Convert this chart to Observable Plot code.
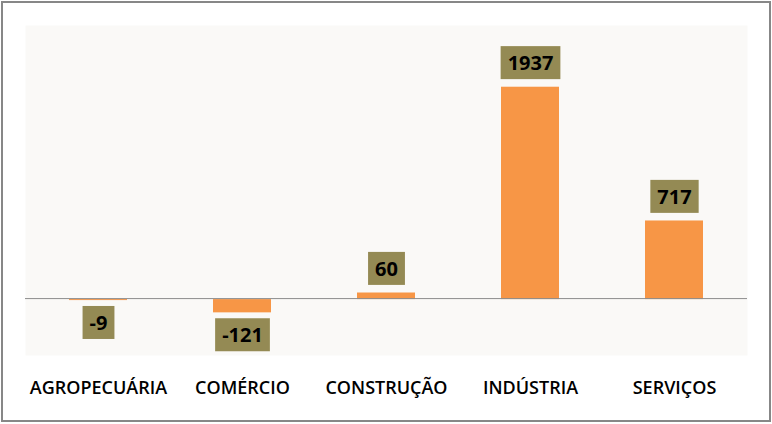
<!DOCTYPE html>
<html>
<head>
<meta charset="utf-8">
<script src="https://cdn.jsdelivr.net/npm/d3@7"></script>
<script src="https://cdn.jsdelivr.net/npm/@observablehq/plot@0.6"></script>
<style>
  html, body { margin: 0; padding: 0; background: #ffffff; }
  #frame { position: absolute; left: 1px; top: 1px; width: 770px; height: 421px; box-sizing: border-box; border: 2px solid #878787; background: #fff; }
  #chart { position: absolute; left: 0px; top: 0px; }
</style>
</head>
<body>
<div id="frame"><div id="chart"></div></div>
<script>
const categories = ["AGROPECUÁRIA", "COMÉRCIO", "CONSTRUÇÃO", "INDÚSTRIA", "SERVIÇOS"];
const values = [-9, -121, 60, 1937, 717];

const data = categories.map((c, i) => ({category: c, value: values[i]}));
const pos = data.filter(d => d.value >= 0);
const neg = data.filter(d => d.value < 0);

const plot = Plot.plot({
  width: 766,
  height: 417,
  marginLeft: 22,
  marginRight: 22,
  marginTop: 22,
  marginBottom: 65,
  style: {background: "transparent", fontFamily: "Open Sans, sans-serif"},
  x: {domain: categories, paddingInner: 0.6, paddingOuter: 0.3, label: null, axis: null},
  y: {domain: [-510, 2500], axis: null},
  marks: [
    Plot.frame({fill: "#faf9f7", stroke: null}),
    Plot.barY(data, {x: "category", y: "value", fill: "#f79646"}),
    Plot.ruleY([0], {stroke: "#8c8c8c", strokeWidth: 1, dy: -1}),
    Plot.text(pos, {x: "category", y: "value", text: d => String(d.value), dy: -23.5, fill: "#000", fontSize: 20, fontWeight: 700, className: "vlabel"}),
    Plot.text(neg, {x: "category", y: "value", text: d => String(d.value), dy: 23, fill: "#000", fontSize: 20, fontWeight: 700, className: "vlabel"}),
    Plot.axisX({tickSize: 0, tickPadding: 26, fontSize: 18, fontWeight: 600, fill: "#000", label: null})
  ]
});
document.getElementById("chart").appendChild(plot);

// olive boxes behind value labels
d3.select(plot).selectAll("g.vlabel text").each(function() {
  const bb = this.getBBox();
  const cy = bb.y + bb.height / 2;
  const w = bb.width + 14, h = 33;
  d3.select(this.parentNode).insert("rect", () => this)
    .attr("transform", this.getAttribute("transform"))
    .attr("x", bb.x + bb.width / 2 - w / 2)
    .attr("y", cy - h / 2)
    .attr("width", w)
    .attr("height", h)
    .attr("fill", "#948a54");
});
</script>
</body>
</html>
